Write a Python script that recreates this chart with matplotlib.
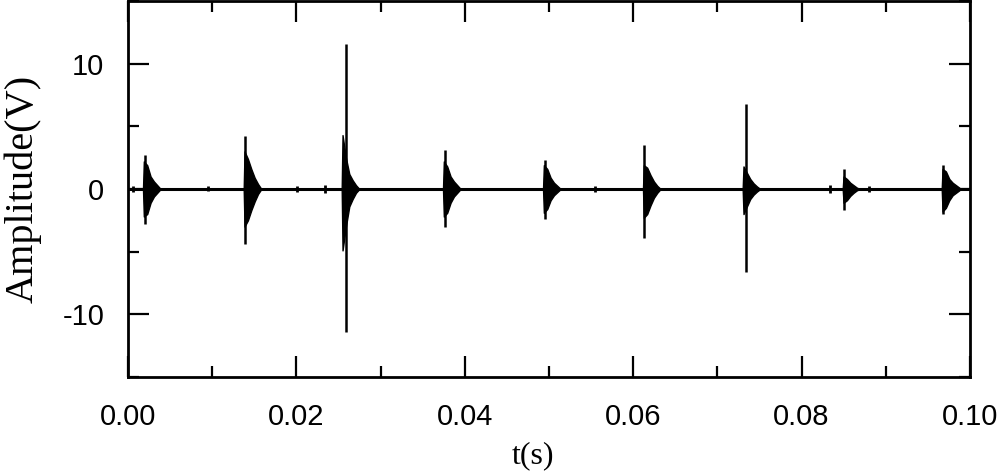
import matplotlib
matplotlib.use("Agg")
import matplotlib.pyplot as plt
from matplotlib.ticker import MultipleLocator, FormatStrFormatter

plt.rcParams["axes.unicode_minus"] = False

# ---- data ----
# burst onsets (s) and body envelope (V) at offsets after onset
burst_onset = [0.00178, 0.01374, 0.02538, 0.03741, 0.04929, 0.06116, 0.07300, 0.08488, 0.09664]
env_offset = [0.0, 0.0001, 0.0005, 0.0009, 0.0013, 0.0017, 0.0021]
env_upper = [
    [0, 2.2, 1.9, 1.0, 0.6, 0.3, 0.0],
    [0, 3.0, 2.4, 1.6, 0.9, 0.4, 0.0],
    [0, 4.3, 2.5, 1.2, 0.7, 0.3, 0.0],
    [0, 2.2, 1.8, 1.0, 0.6, 0.3, 0.0],
    [0, 1.9, 1.6, 0.9, 0.5, 0.25, 0.0],
    [0, 1.9, 1.7, 1.1, 0.6, 0.25, 0.0],
    [0, 1.8, 1.3, 0.8, 0.45, 0.2, 0.0],
    [0, 1.0, 0.8, 0.5, 0.3, 0.1, 0.0],
    [0, 1.6, 1.4, 0.8, 0.5, 0.3, 0.1],
]
env_lower = [
    [0, -2.2, -2.0, -1.1, -0.6, -0.3, 0.0],
    [0, -3.0, -2.5, -1.7, -1.0, -0.4, 0.0],
    [0, -4.9, -3.0, -1.4, -0.8, -0.3, 0.0],
    [0, -2.2, -1.9, -1.1, -0.6, -0.3, 0.0],
    [0, -1.9, -1.6, -0.9, -0.5, -0.25, 0.0],
    [0, -2.3, -2.0, -1.3, -0.7, -0.3, 0.0],
    [0, -2.0, -1.4, -0.8, -0.45, -0.2, 0.0],
    [0, -1.1, -0.9, -0.55, -0.3, -0.1, 0.0],
    [0, -1.8, -1.5, -0.9, -0.5, -0.3, -0.1],
]
# single-sample spike of each burst
spike_t = [0.00202, 0.01393, 0.02585, 0.03765, 0.04952, 0.06132, 0.07336, 0.08504, 0.09679]
spike_pos = [2.7, 4.2, 11.6, 3.1, 2.3, 3.5, 6.8, 1.6, 1.9]
spike_neg = [-2.8, -4.4, -11.4, -3.0, -2.4, -3.9, -6.6, -1.7, -2.0]
# small blips on the baseline
blip_t = [0.0006, 0.0095, 0.0201, 0.0234, 0.0555, 0.0834, 0.0880]
blip_amp = [0.25, 0.2, 0.25, 0.3, 0.25, 0.3, 0.25]
baseline_t = [0.0, 0.1]
baseline_v = [0.0, 0.0]

xticks = [0.00, 0.02, 0.04, 0.06, 0.08, 0.10]
yticks = [-10, 0, 10]

# ---- figure ----
fig = plt.figure(figsize=(10, 4.72), dpi=100)
ax = fig.add_axes([0.128, 0.2013, 0.842, 0.7966])

ax.plot(baseline_t, baseline_v, color="black", lw=2.2, solid_capstyle="butt")
for t0, up, lo in zip(burst_onset, env_upper, env_lower):
    ts = [t0 + o for o in env_offset]
    ax.fill_between(ts, lo, up, color="black", lw=1.0)
ax.vlines(spike_t, spike_neg, spike_pos, color="black", lw=1.8)
ax.vlines(blip_t, [-a for a in blip_amp], blip_amp, color="black", lw=2.0)

ax.set_xlim(0, 0.1)
ax.set_ylim(-15, 15)
ax.set_xticks(xticks)
ax.set_yticks(yticks)
ax.xaxis.set_major_formatter(FormatStrFormatter("%.2f"))
ax.xaxis.set_minor_locator(MultipleLocator(0.01))
ax.yaxis.set_minor_locator(MultipleLocator(5))

for s in ax.spines.values():
    s.set_linewidth(2.0)
ax.tick_params(which="both", direction="in", top=True, right=True, width=1.6)
ax.tick_params(which="major", length=15)
ax.tick_params(which="minor", length=8)
ax.tick_params(axis="x", which="major", pad=19)
ax.tick_params(axis="y", which="major", pad=17)
for lab in ax.get_xticklabels():
    lab.set_fontfamily("Liberation Sans")
    lab.set_fontsize(21)
for lab in ax.get_yticklabels():
    lab.set_fontfamily("Liberation Sans")
    lab.set_fontsize(21)

ax.set_xlabel("t(s)", fontfamily="Liberation Serif", fontsize=23)
ax.xaxis.set_label_coords(0.481, -0.172)
ax.set_ylabel("Amplitude(V)", fontfamily="Liberation Serif", fontsize=29)
ax.yaxis.set_label_coords(-0.102, 0.5)

fig.savefig("out.png", dpi=100)
